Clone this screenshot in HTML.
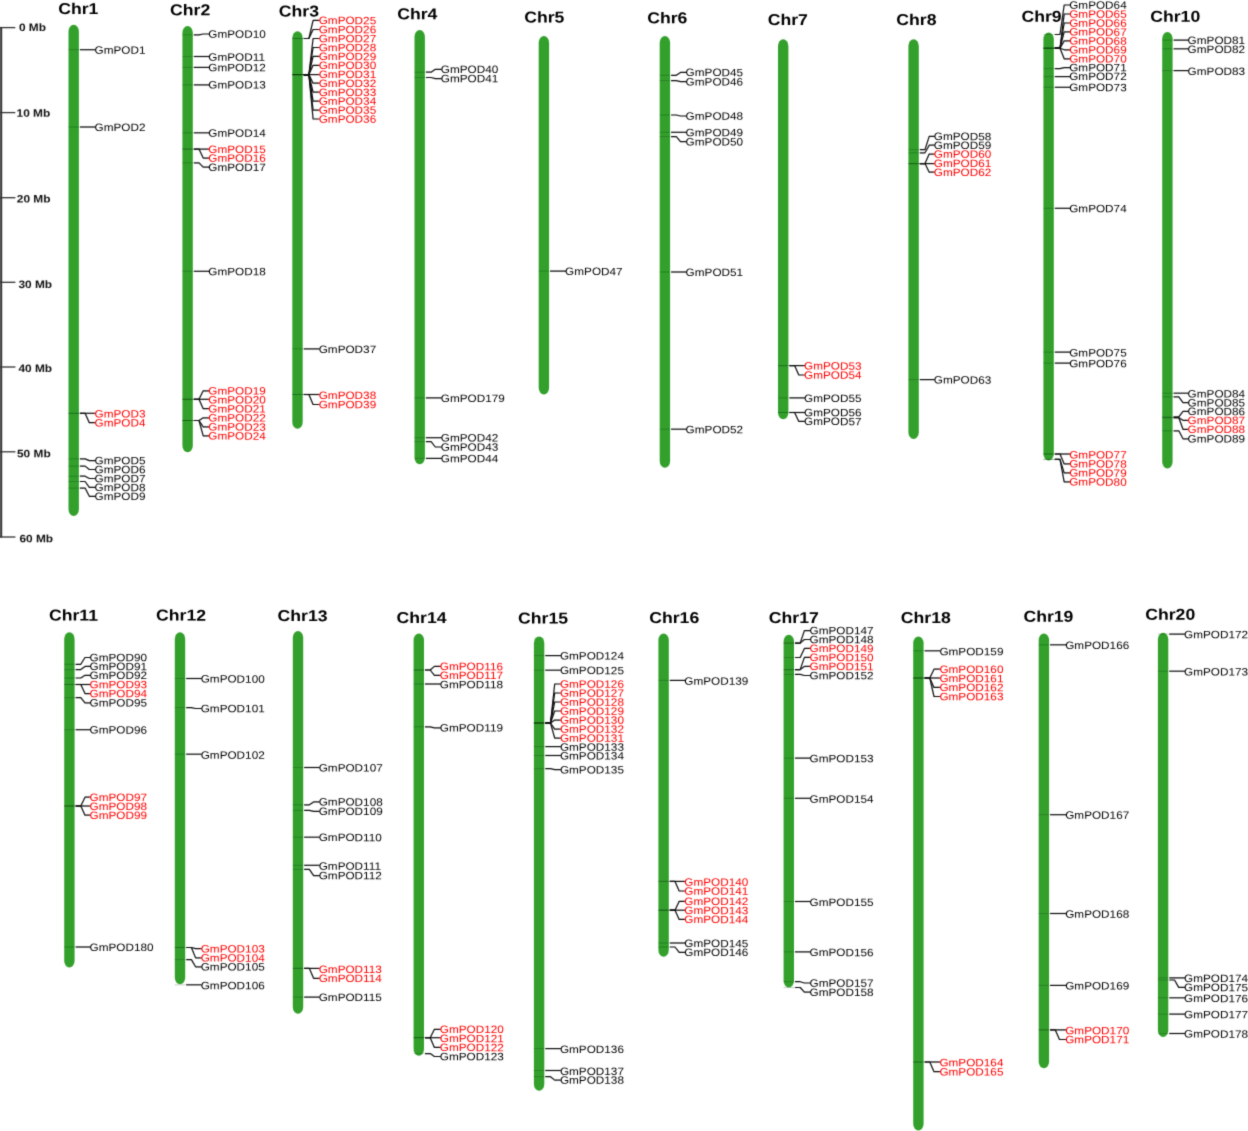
<!DOCTYPE html>
<html lang="en"><head><meta charset="utf-8"><title>GmPOD chromosome map</title>
<style>html,body{margin:0;padding:0;background:#fff;}body{width:1248px;height:1131px;overflow:hidden}svg{display:block}</style>
</head><body>
<svg width="1248" height="1131" viewBox="0 0 1248 1131">
<defs><filter id="soft" x="0" y="0" width="1248" height="1131" filterUnits="userSpaceOnUse"><feConvolveMatrix order="3" kernelMatrix="0.0192 0.1001 0.0192 0.1001 0.5228 0.1001 0.0192 0.1001 0.0192" divisor="1" edgeMode="duplicate" preserveAlpha="false"/></filter></defs>
<rect width="100%" height="100%" fill="#fff"/>
<g filter="url(#soft)">
<g stroke="#333" stroke-width="1.3" fill="none">
<path d="M1.2 27.0V537.6" stroke-width="2"/>
<path d="M0 27.6H15.3"/>
<path d="M0 112.6H15.3"/>
<path d="M0 197.7H15.4"/>
<path d="M0 282.3H15.4"/>
<path d="M0 367.0H15.4"/>
<path d="M0 451.8H15.4"/>
<path d="M0 537.0H15.4"/>
</g>
<g font-family="'Liberation Sans', Arial, sans-serif" font-weight="bold" font-size="10.8" fill="#111" text-rendering="geometricPrecision">
<text transform="matrix(1.10 0.0008 0 1 18.9 30.9)">0 Mb</text>
<text transform="matrix(1.10 0.0008 0 1 16.6 116.8)">10 Mb</text>
<text transform="matrix(1.10 0.0008 0 1 16.8 202.6)">20 Mb</text>
<text transform="matrix(1.10 0.0008 0 1 18.4 288.0)">30 Mb</text>
<text transform="matrix(1.10 0.0008 0 1 18.4 372.1)">40 Mb</text>
<text transform="matrix(1.10 0.0008 0 1 17.0 457.3)">50 Mb</text>
<text transform="matrix(1.10 0.0008 0 1 19.4 542.3)">60 Mb</text>
</g>
<g fill="#32a02c">
<rect x="68.5" y="24.8" width="10.4" height="491.2" rx="5.2" ry="6.7"/>
<rect x="182.4" y="26.0" width="10.4" height="426.3" rx="5.2" ry="6.7"/>
<rect x="292.3" y="31.3" width="10.4" height="397.4" rx="5.2" ry="6.7"/>
<rect x="414.5" y="30.0" width="10.4" height="434.2" rx="5.2" ry="6.7"/>
<rect x="538.7" y="36.0" width="10.4" height="358.5" rx="5.2" ry="6.7"/>
<rect x="659.7" y="36.1" width="10.4" height="431.6" rx="5.2" ry="6.7"/>
<rect x="778.0" y="39.2" width="10.4" height="380.0" rx="5.2" ry="6.7"/>
<rect x="908.4" y="39.2" width="10.4" height="399.8" rx="5.2" ry="6.7"/>
<rect x="1043.4" y="32.5" width="10.4" height="427.9" rx="5.2" ry="6.7"/>
<rect x="1162.2" y="32.1" width="10.4" height="436.4" rx="5.2" ry="6.7"/>
<rect x="64.2" y="632.3" width="10.4" height="335.2" rx="5.2" ry="6.7"/>
<rect x="174.8" y="632.3" width="10.4" height="352.0" rx="5.2" ry="6.7"/>
<rect x="292.8" y="631.1" width="10.4" height="382.6" rx="5.2" ry="6.7"/>
<rect x="413.6" y="633.5" width="10.4" height="422.3" rx="5.2" ry="6.7"/>
<rect x="533.9" y="636.4" width="10.4" height="454.3" rx="5.2" ry="6.7"/>
<rect x="658.4" y="633.5" width="10.4" height="323.2" rx="5.2" ry="6.7"/>
<rect x="783.6" y="634.7" width="10.4" height="352.7" rx="5.2" ry="6.7"/>
<rect x="913.2" y="636.6" width="10.4" height="493.8" rx="5.2" ry="6.7"/>
<rect x="1038.7" y="633.5" width="10.4" height="434.7" rx="5.2" ry="6.7"/>
<rect x="1157.9" y="632.7" width="10.4" height="404.2" rx="5.2" ry="6.7"/>
</g>
<g stroke="#002200" stroke-opacity="0.22" stroke-width="1" fill="none">
<path d="M68.5 49.7H78.9"/>
<path d="M68.5 127.0H78.9"/>
<path d="M68.5 413.3H78.9"/>
<path d="M68.5 413.3H78.9"/>
<path d="M68.5 458.9H78.9"/>
<path d="M68.5 466.1H78.9"/>
<path d="M68.5 476.2H78.9"/>
<path d="M68.5 481.5H78.9"/>
<path d="M68.5 488.1H78.9"/>
<path d="M182.4 34.9H192.8"/>
<path d="M182.4 56.5H192.8"/>
<path d="M182.4 67.4H192.8"/>
<path d="M182.4 84.9H192.8"/>
<path d="M182.4 132.8H192.8"/>
<path d="M182.4 149.1H192.8"/>
<path d="M182.4 149.1H192.8"/>
<path d="M182.4 162.9H192.8"/>
<path d="M182.4 271.3H192.8"/>
<path d="M182.4 399.3H192.8"/>
<path d="M182.4 399.3H192.8"/>
<path d="M182.4 399.3H192.8"/>
<path d="M182.4 420.5H192.8"/>
<path d="M182.4 420.5H192.8"/>
<path d="M182.4 420.5H192.8"/>
<path d="M292.3 38.5H302.7"/>
<path d="M292.3 38.5H302.7"/>
<path d="M292.3 74.6H302.7"/>
<path d="M292.3 74.6H302.7"/>
<path d="M292.3 74.6H302.7"/>
<path d="M292.3 74.6H302.7"/>
<path d="M292.3 74.6H302.7"/>
<path d="M292.3 74.6H302.7"/>
<path d="M292.3 74.6H302.7"/>
<path d="M292.3 74.6H302.7"/>
<path d="M292.3 74.6H302.7"/>
<path d="M292.3 74.6H302.7"/>
<path d="M292.3 348.9H302.7"/>
<path d="M292.3 394.5H302.7"/>
<path d="M292.3 394.5H302.7"/>
<path d="M414.5 72.2H424.9"/>
<path d="M414.5 77.5H424.9"/>
<path d="M414.5 397.9H424.9"/>
<path d="M414.5 437.7H424.9"/>
<path d="M414.5 441.7H424.9"/>
<path d="M414.5 458.4H424.9"/>
<path d="M538.7 271.1H549.1"/>
<path d="M659.7 75.3H670.1"/>
<path d="M659.7 80.6H670.1"/>
<path d="M659.7 115.0H670.1"/>
<path d="M659.7 132.3H670.1"/>
<path d="M659.7 136.6H670.1"/>
<path d="M659.7 272.0H670.1"/>
<path d="M659.7 429.2H670.1"/>
<path d="M778.0 365.6H788.4"/>
<path d="M778.0 365.6H788.4"/>
<path d="M778.0 397.9H788.4"/>
<path d="M778.0 412.5H788.4"/>
<path d="M778.0 412.5H788.4"/>
<path d="M908.4 149.6H918.8"/>
<path d="M908.4 152.8H918.8"/>
<path d="M908.4 163.6H918.8"/>
<path d="M908.4 163.6H918.8"/>
<path d="M908.4 163.6H918.8"/>
<path d="M908.4 379.6H918.8"/>
<path d="M1043.4 34.5H1053.8"/>
<path d="M1043.4 48.2H1053.8"/>
<path d="M1043.4 48.2H1053.8"/>
<path d="M1043.4 48.2H1053.8"/>
<path d="M1043.4 48.2H1053.8"/>
<path d="M1043.4 48.2H1053.8"/>
<path d="M1043.4 48.2H1053.8"/>
<path d="M1043.4 68.6H1053.8"/>
<path d="M1043.4 76.6H1053.8"/>
<path d="M1043.4 87.3H1053.8"/>
<path d="M1043.4 208.3H1053.8"/>
<path d="M1043.4 352.1H1053.8"/>
<path d="M1043.4 363.1H1053.8"/>
<path d="M1043.4 454.0H1053.8"/>
<path d="M1043.4 454.0H1053.8"/>
<path d="M1043.4 459.4H1053.8"/>
<path d="M1043.4 459.4H1053.8"/>
<path d="M1162.2 40.1H1172.6"/>
<path d="M1162.2 48.8H1172.6"/>
<path d="M1162.2 70.6H1172.6"/>
<path d="M1162.2 393.2H1172.6"/>
<path d="M1162.2 396.8H1172.6"/>
<path d="M1162.2 416.9H1172.6"/>
<path d="M1162.2 417.7H1172.6"/>
<path d="M1162.2 417.7H1172.6"/>
<path d="M1162.2 430.8H1172.6"/>
<path d="M64.2 664.3H74.6"/>
<path d="M64.2 669.6H74.6"/>
<path d="M64.2 678.0H74.6"/>
<path d="M64.2 684.5H74.6"/>
<path d="M64.2 684.5H74.6"/>
<path d="M64.2 697.7H74.6"/>
<path d="M64.2 729.7H74.6"/>
<path d="M64.2 806.0H74.6"/>
<path d="M64.2 806.0H74.6"/>
<path d="M64.2 806.0H74.6"/>
<path d="M64.2 947.0H74.6"/>
<path d="M174.8 678.5H185.2"/>
<path d="M174.8 707.6H185.2"/>
<path d="M174.8 754.2H185.2"/>
<path d="M174.8 947.5H185.2"/>
<path d="M174.8 947.5H185.2"/>
<path d="M174.8 959.6H185.2"/>
<path d="M174.8 984.8H185.2"/>
<path d="M292.8 767.5H303.2"/>
<path d="M292.8 804.8H303.2"/>
<path d="M292.8 810.3H303.2"/>
<path d="M292.8 837.2H303.2"/>
<path d="M292.8 865.3H303.2"/>
<path d="M292.8 869.3H303.2"/>
<path d="M292.8 968.4H303.2"/>
<path d="M292.8 968.4H303.2"/>
<path d="M292.8 997.1H303.2"/>
<path d="M413.6 670.0H424.0"/>
<path d="M413.6 670.0H424.0"/>
<path d="M413.6 684.0H424.0"/>
<path d="M413.6 726.8H424.0"/>
<path d="M413.6 1037.7H424.0"/>
<path d="M413.6 1037.7H424.0"/>
<path d="M413.6 1037.7H424.0"/>
<path d="M413.6 1053.6H424.0"/>
<path d="M533.9 655.6H544.3"/>
<path d="M533.9 670.2H544.3"/>
<path d="M533.9 723.0H544.3"/>
<path d="M533.9 723.0H544.3"/>
<path d="M533.9 723.0H544.3"/>
<path d="M533.9 723.0H544.3"/>
<path d="M533.9 723.0H544.3"/>
<path d="M533.9 723.0H544.3"/>
<path d="M533.9 723.0H544.3"/>
<path d="M533.9 746.6H544.3"/>
<path d="M533.9 755.5H544.3"/>
<path d="M533.9 768.7H544.3"/>
<path d="M533.9 1048.6H544.3"/>
<path d="M533.9 1070.5H544.3"/>
<path d="M533.9 1076.7H544.3"/>
<path d="M658.4 680.4H668.8"/>
<path d="M658.4 881.4H668.8"/>
<path d="M658.4 881.4H668.8"/>
<path d="M658.4 910.2H668.8"/>
<path d="M658.4 910.2H668.8"/>
<path d="M658.4 910.2H668.8"/>
<path d="M658.4 943.0H668.8"/>
<path d="M658.4 947.0H668.8"/>
<path d="M783.6 643.1H794.0"/>
<path d="M783.6 643.1H794.0"/>
<path d="M783.6 657.5H794.0"/>
<path d="M783.6 669.6H794.0"/>
<path d="M783.6 669.6H794.0"/>
<path d="M783.6 674.4H794.0"/>
<path d="M783.6 758.1H794.0"/>
<path d="M783.6 798.3H794.0"/>
<path d="M783.6 901.5H794.0"/>
<path d="M783.6 951.9H794.0"/>
<path d="M783.6 981.7H794.0"/>
<path d="M783.6 987.5H794.0"/>
<path d="M913.2 650.8H923.6"/>
<path d="M913.2 678.0H923.6"/>
<path d="M913.2 678.0H923.6"/>
<path d="M913.2 678.0H923.6"/>
<path d="M913.2 678.0H923.6"/>
<path d="M913.2 1062.0H923.6"/>
<path d="M913.2 1062.0H923.6"/>
<path d="M1038.7 644.8H1049.1"/>
<path d="M1038.7 814.7H1049.1"/>
<path d="M1038.7 913.5H1049.1"/>
<path d="M1038.7 985.4H1049.1"/>
<path d="M1038.7 1029.9H1049.1"/>
<path d="M1038.7 1029.9H1049.1"/>
<path d="M1157.9 634.1H1168.3"/>
<path d="M1157.9 671.2H1168.3"/>
<path d="M1157.9 977.9H1168.3"/>
<path d="M1157.9 980.0H1168.3"/>
<path d="M1157.9 997.8H1168.3"/>
<path d="M1157.9 1014.1H1168.3"/>
<path d="M1157.9 1033.5H1168.3"/>
</g>
<g stroke="#0a0a0a" stroke-width="1.2" fill="none" stroke-linejoin="round">
<path d="M79.8 49.7H95.4"/>
<path d="M79.8 127.0H95.4"/>
<path d="M79.8 413.3H95.4"/>
<path d="M79.8 413.3H85.1L89.3 422.7H95.4"/>
<path d="M79.8 458.9H85.1L89.3 460.6H95.4"/>
<path d="M79.8 466.1H85.1L89.3 469.5H95.4"/>
<path d="M79.8 476.2H85.1L89.3 478.5H95.4"/>
<path d="M79.8 481.5H85.1L89.3 487.4H95.4"/>
<path d="M79.8 488.1H85.1L89.3 496.3H95.4"/>
<path d="M193.7 34.9H199.0L203.2 34.0H209.2"/>
<path d="M193.7 56.5H209.2"/>
<path d="M193.7 67.4H209.2"/>
<path d="M193.7 84.9H209.2"/>
<path d="M193.7 132.8H209.2"/>
<path d="M193.7 149.1H209.2"/>
<path d="M193.7 149.1H199.0L203.2 158.1H209.2"/>
<path d="M193.7 162.9H199.0L203.2 167.2H209.2"/>
<path d="M193.7 271.3H209.2"/>
<path d="M193.7 399.3H199.0L203.2 390.8H209.2"/>
<path d="M193.7 399.3H209.2"/>
<path d="M193.7 399.3H199.0L203.2 408.7H209.2"/>
<path d="M193.7 420.5H199.0L203.2 417.8H209.2"/>
<path d="M193.7 420.5H199.0L203.2 426.9H209.2"/>
<path d="M193.7 420.5H199.0L203.2 435.9H209.2"/>
<path d="M303.6 38.5H308.9L313.1 20.4H319.6"/>
<path d="M303.6 38.5H308.9L313.1 29.5H319.6"/>
<path d="M303.6 74.6H308.9L313.1 38.5H319.6"/>
<path d="M303.6 74.6H308.9L313.1 47.5H319.6"/>
<path d="M303.6 74.6H308.9L313.1 56.4H319.6"/>
<path d="M303.6 74.6H308.9L313.1 65.3H319.6"/>
<path d="M303.6 74.6H319.6"/>
<path d="M303.6 74.6H308.9L313.1 83.2H319.6"/>
<path d="M303.6 74.6H308.9L313.1 92.2H319.6"/>
<path d="M303.6 74.6H308.9L313.1 101.1H319.6"/>
<path d="M303.6 74.6H308.9L313.1 110.1H319.6"/>
<path d="M303.6 74.6H308.9L313.1 119.0H319.6"/>
<path d="M303.6 348.9H319.6"/>
<path d="M303.6 394.5H319.6"/>
<path d="M303.6 394.5H308.9L313.1 404.5H319.6"/>
<path d="M425.8 72.2H431.1L435.3 69.3H441.7"/>
<path d="M425.8 77.5H431.1L435.3 78.6H441.7"/>
<path d="M425.8 397.9H441.7"/>
<path d="M425.8 437.7H441.7"/>
<path d="M425.8 441.7H431.1L435.3 447.0H441.7"/>
<path d="M425.8 458.4H441.7"/>
<path d="M550.0 271.1H566.0"/>
<path d="M671.0 75.3H676.3L680.5 72.4H686.5"/>
<path d="M671.0 80.6H676.3L680.5 81.7H686.5"/>
<path d="M671.0 115.0H676.3L680.5 116.0H686.5"/>
<path d="M671.0 132.3H686.5"/>
<path d="M671.0 136.6H676.3L680.5 141.7H686.5"/>
<path d="M671.0 272.0H686.5"/>
<path d="M671.0 429.2H686.5"/>
<path d="M789.3 365.6H804.9"/>
<path d="M789.3 365.6H794.6L798.8 375.0H804.9"/>
<path d="M789.3 397.9H804.9"/>
<path d="M789.3 412.5H804.9"/>
<path d="M789.3 412.5H794.6L798.8 421.4H804.9"/>
<path d="M919.7 149.6H925.0L929.2 136.4H934.7"/>
<path d="M919.7 152.8H925.0L929.2 145.2H934.7"/>
<path d="M919.7 163.6H925.0L929.2 154.1H934.7"/>
<path d="M919.7 163.6H934.7"/>
<path d="M919.7 163.6H925.0L929.2 172.2H934.7"/>
<path d="M919.7 379.6H934.7"/>
<path d="M1054.7 34.5H1060.0L1064.2 5.0H1070.1"/>
<path d="M1054.7 48.2H1060.0L1064.2 14.0H1070.1"/>
<path d="M1054.7 48.2H1060.0L1064.2 23.0H1070.1"/>
<path d="M1054.7 48.2H1060.0L1064.2 31.9H1070.1"/>
<path d="M1054.7 48.2H1060.0L1064.2 40.9H1070.1"/>
<path d="M1054.7 48.2H1060.0L1064.2 49.8H1070.1"/>
<path d="M1054.7 48.2H1060.0L1064.2 58.8H1070.1"/>
<path d="M1054.7 68.6H1060.0L1064.2 67.6H1070.1"/>
<path d="M1054.7 76.6H1070.1"/>
<path d="M1054.7 87.3H1070.1"/>
<path d="M1054.7 208.3H1070.1"/>
<path d="M1054.7 352.1H1070.1"/>
<path d="M1054.7 363.1H1070.1"/>
<path d="M1054.7 454.0H1070.1"/>
<path d="M1054.7 454.0H1060.0L1064.2 463.9H1070.1"/>
<path d="M1054.7 459.4H1060.0L1064.2 472.9H1070.1"/>
<path d="M1054.7 459.4H1060.0L1064.2 481.9H1070.1"/>
<path d="M1173.5 40.1H1188.5"/>
<path d="M1173.5 48.8H1188.5"/>
<path d="M1173.5 70.6H1188.5"/>
<path d="M1173.5 393.2H1188.5"/>
<path d="M1173.5 396.8H1178.8L1183.0 402.7H1188.5"/>
<path d="M1173.5 416.9H1178.8L1183.0 411.4H1188.5"/>
<path d="M1173.5 417.7H1178.8L1183.0 420.3H1188.5"/>
<path d="M1173.5 417.7H1178.8L1183.0 429.3H1188.5"/>
<path d="M1173.5 430.8H1178.8L1183.0 438.8H1188.5"/>
<path d="M75.5 664.3H80.8L85.0 657.5H90.4"/>
<path d="M75.5 669.6H80.8L85.0 666.4H90.4"/>
<path d="M75.5 678.0H80.8L85.0 675.3H90.4"/>
<path d="M75.5 684.5H90.4"/>
<path d="M75.5 684.5H80.8L85.0 693.6H90.4"/>
<path d="M75.5 697.7H80.8L85.0 702.8H90.4"/>
<path d="M75.5 729.7H90.4"/>
<path d="M75.5 806.0H80.8L85.0 797.2H90.4"/>
<path d="M75.5 806.0H90.4"/>
<path d="M75.5 806.0H80.8L85.0 815.2H90.4"/>
<path d="M75.5 947.0H90.4"/>
<path d="M186.1 678.5H201.6"/>
<path d="M186.1 707.6H191.4L195.6 708.5H201.6"/>
<path d="M186.1 754.2H201.6"/>
<path d="M186.1 947.5H191.4L195.6 948.7H201.6"/>
<path d="M186.1 947.5H191.4L195.6 957.9H201.6"/>
<path d="M186.1 959.6H191.4L195.6 966.8H201.6"/>
<path d="M186.1 984.8H201.6"/>
<path d="M304.1 767.5H319.6"/>
<path d="M304.1 804.8H309.4L313.6 801.9H319.6"/>
<path d="M304.1 810.3H309.4L313.6 811.3H319.6"/>
<path d="M304.1 837.2H319.6"/>
<path d="M304.1 865.3H319.6"/>
<path d="M304.1 869.3H309.4L313.6 875.6H319.6"/>
<path d="M304.1 968.4H319.6"/>
<path d="M304.1 968.4H309.4L313.6 978.3H319.6"/>
<path d="M304.1 997.1H319.6"/>
<path d="M424.9 670.0H430.2L434.4 666.4H440.7"/>
<path d="M424.9 670.0H430.2L434.4 675.3H440.7"/>
<path d="M424.9 684.0H440.7"/>
<path d="M424.9 726.8H430.2L434.4 727.8H440.7"/>
<path d="M424.9 1037.7H430.2L434.4 1029.3H440.7"/>
<path d="M424.9 1037.7H440.7"/>
<path d="M424.9 1037.7H430.2L434.4 1047.4H440.7"/>
<path d="M424.9 1053.6H430.2L434.4 1056.5H440.7"/>
<path d="M545.2 655.6H560.8"/>
<path d="M545.2 670.2H560.8"/>
<path d="M545.2 723.0H550.5L554.7 684.0H560.8"/>
<path d="M545.2 723.0H550.5L554.7 693.0H560.8"/>
<path d="M545.2 723.0H550.5L554.7 702.0H560.8"/>
<path d="M545.2 723.0H550.5L554.7 711.0H560.8"/>
<path d="M545.2 723.0H550.5L554.7 720.1H560.8"/>
<path d="M545.2 723.0H550.5L554.7 729.1H560.8"/>
<path d="M545.2 723.0H550.5L554.7 738.1H560.8"/>
<path d="M545.2 746.6H560.8"/>
<path d="M545.2 755.5H560.8"/>
<path d="M545.2 768.7H550.5L554.7 769.7H560.8"/>
<path d="M545.2 1048.6H560.8"/>
<path d="M545.2 1070.5H560.8"/>
<path d="M545.2 1076.7H550.5L554.7 1080.1H560.8"/>
<path d="M669.7 680.4H685.2"/>
<path d="M669.7 881.4H685.2"/>
<path d="M669.7 881.4H675.0L679.2 891.0H685.2"/>
<path d="M669.7 910.2H675.0L679.2 901.3H685.2"/>
<path d="M669.7 910.2H685.2"/>
<path d="M669.7 910.2H675.0L679.2 919.4H685.2"/>
<path d="M669.7 943.0H685.2"/>
<path d="M669.7 947.0H675.0L679.2 952.3H685.2"/>
<path d="M794.9 643.1H800.2L804.4 630.6H810.4"/>
<path d="M794.9 643.1H800.2L804.4 639.5H810.4"/>
<path d="M794.9 657.5H800.2L804.4 648.4H810.4"/>
<path d="M794.9 669.6H800.2L804.4 657.4H810.4"/>
<path d="M794.9 669.6H800.2L804.4 666.4H810.4"/>
<path d="M794.9 674.4H800.2L804.4 675.5H810.4"/>
<path d="M794.9 758.1H810.4"/>
<path d="M794.9 798.3H810.4"/>
<path d="M794.9 901.5H810.4"/>
<path d="M794.9 951.9H810.4"/>
<path d="M794.9 981.7H800.2L804.4 983.0H810.4"/>
<path d="M794.9 987.5H800.2L804.4 992.2H810.4"/>
<path d="M924.5 650.8H940.3"/>
<path d="M924.5 678.0H929.8L934.0 669.2H940.3"/>
<path d="M924.5 678.0H940.3"/>
<path d="M924.5 678.0H929.8L934.0 687.4H940.3"/>
<path d="M924.5 678.0H929.8L934.0 696.5H940.3"/>
<path d="M924.5 1062.0H940.3"/>
<path d="M924.5 1062.0H929.8L934.0 1071.7H940.3"/>
<path d="M1050.0 644.8H1066.1"/>
<path d="M1050.0 814.7H1066.1"/>
<path d="M1050.0 913.5H1066.1"/>
<path d="M1050.0 985.4H1066.1"/>
<path d="M1050.0 1029.9H1066.1"/>
<path d="M1050.0 1029.9H1055.3L1059.5 1039.5H1066.1"/>
<path d="M1169.2 634.1H1184.9"/>
<path d="M1169.2 671.2H1184.9"/>
<path d="M1169.2 977.9H1184.9"/>
<path d="M1169.2 980.0H1174.5L1178.7 987.4H1184.9"/>
<path d="M1169.2 997.8H1184.9"/>
<path d="M1169.2 1014.1H1184.9"/>
<path d="M1169.2 1033.5H1184.9"/>
</g>
<g font-family="'Liberation Sans', Arial, sans-serif" font-weight="bold" font-size="15.7" fill="#000" text-rendering="geometricPrecision">
<text transform="matrix(1.125 0.0008 0 1 58.2 14.1)">Chr1</text>
<text transform="matrix(1.125 0.0008 0 1 170.0 15.2)">Chr2</text>
<text transform="matrix(1.125 0.0008 0 1 278.8 16.4)">Chr3</text>
<text transform="matrix(1.125 0.0008 0 1 397.2 19.3)">Chr4</text>
<text transform="matrix(1.125 0.0008 0 1 524.2 22.5)">Chr5</text>
<text transform="matrix(1.125 0.0008 0 1 647.2 23.2)">Chr6</text>
<text transform="matrix(1.125 0.0008 0 1 767.7 24.9)">Chr7</text>
<text transform="matrix(1.125 0.0008 0 1 896.3 24.9)">Chr8</text>
<text transform="matrix(1.125 0.0008 0 1 1021.4 21.7)">Chr9</text>
<text transform="matrix(1.125 0.0008 0 1 1150.2 21.7)">Chr10</text>
<text transform="matrix(1.125 0.0008 0 1 48.9 620.6)">Chr11</text>
<text transform="matrix(1.125 0.0008 0 1 156.0 620.6)">Chr12</text>
<text transform="matrix(1.125 0.0008 0 1 277.5 621.1)">Chr13</text>
<text transform="matrix(1.125 0.0008 0 1 396.5 623.0)">Chr14</text>
<text transform="matrix(1.125 0.0008 0 1 518.0 623.5)">Chr15</text>
<text transform="matrix(1.125 0.0008 0 1 649.2 623.0)">Chr16</text>
<text transform="matrix(1.125 0.0008 0 1 768.8 623.0)">Chr17</text>
<text transform="matrix(1.125 0.0008 0 1 900.8 623.0)">Chr18</text>
<text transform="matrix(1.125 0.0008 0 1 1023.4 621.7)">Chr19</text>
<text transform="matrix(1.125 0.0008 0 1 1145.2 619.7)">Chr20</text>
</g>
<g font-family="'Liberation Sans', Arial, sans-serif" font-size="10.7" fill="#000" text-rendering="geometricPrecision">
<text transform="matrix(1.1 0.0008 0 1 94.5 53.7)">GmPOD1</text>
<text transform="matrix(1.1 0.0008 0 1 94.5 131.0)">GmPOD2</text>
<text transform="matrix(1.1 0.0008 0 1 94.5 417.5)" fill="#ff0000">GmPOD3</text>
<text transform="matrix(1.1 0.0008 0 1 94.5 426.4)" fill="#ff0000">GmPOD4</text>
<text transform="matrix(1.1 0.0008 0 1 94.5 464.3)">GmPOD5</text>
<text transform="matrix(1.1 0.0008 0 1 94.5 473.2)">GmPOD6</text>
<text transform="matrix(1.1 0.0008 0 1 94.5 482.2)">GmPOD7</text>
<text transform="matrix(1.1 0.0008 0 1 94.5 491.1)">GmPOD8</text>
<text transform="matrix(1.1 0.0008 0 1 94.5 500.0)">GmPOD9</text>
<text transform="matrix(1.1 0.0008 0 1 208.3 37.7)">GmPOD10</text>
<text transform="matrix(1.1 0.0008 0 1 208.3 60.7)">GmPOD11</text>
<text transform="matrix(1.1 0.0008 0 1 208.3 71.3)">GmPOD12</text>
<text transform="matrix(1.1 0.0008 0 1 208.3 88.4)">GmPOD13</text>
<text transform="matrix(1.1 0.0008 0 1 208.3 136.7)">GmPOD14</text>
<text transform="matrix(1.1 0.0008 0 1 208.3 152.9)" fill="#ff0000">GmPOD15</text>
<text transform="matrix(1.1 0.0008 0 1 208.3 161.8)" fill="#ff0000">GmPOD16</text>
<text transform="matrix(1.1 0.0008 0 1 208.3 170.9)">GmPOD17</text>
<text transform="matrix(1.1 0.0008 0 1 208.3 275.2)">GmPOD18</text>
<text transform="matrix(1.1 0.0008 0 1 208.3 394.5)" fill="#ff0000">GmPOD19</text>
<text transform="matrix(1.1 0.0008 0 1 208.3 403.5)" fill="#ff0000">GmPOD20</text>
<text transform="matrix(1.1 0.0008 0 1 208.3 412.4)" fill="#ff0000">GmPOD21</text>
<text transform="matrix(1.1 0.0008 0 1 208.3 421.5)" fill="#ff0000">GmPOD22</text>
<text transform="matrix(1.1 0.0008 0 1 208.3 430.6)" fill="#ff0000">GmPOD23</text>
<text transform="matrix(1.1 0.0008 0 1 208.3 439.6)" fill="#ff0000">GmPOD24</text>
<text transform="matrix(1.1 0.0008 0 1 318.7 24.1)" fill="#ff0000">GmPOD25</text>
<text transform="matrix(1.1 0.0008 0 1 318.7 33.2)" fill="#ff0000">GmPOD26</text>
<text transform="matrix(1.1 0.0008 0 1 318.7 42.2)" fill="#ff0000">GmPOD27</text>
<text transform="matrix(1.1 0.0008 0 1 318.7 51.2)" fill="#ff0000">GmPOD28</text>
<text transform="matrix(1.1 0.0008 0 1 318.7 60.1)" fill="#ff0000">GmPOD29</text>
<text transform="matrix(1.1 0.0008 0 1 318.7 69.0)" fill="#ff0000">GmPOD30</text>
<text transform="matrix(1.1 0.0008 0 1 318.7 78.0)" fill="#ff0000">GmPOD31</text>
<text transform="matrix(1.1 0.0008 0 1 318.7 87.0)" fill="#ff0000">GmPOD32</text>
<text transform="matrix(1.1 0.0008 0 1 318.7 95.9)" fill="#ff0000">GmPOD33</text>
<text transform="matrix(1.1 0.0008 0 1 318.7 104.8)" fill="#ff0000">GmPOD34</text>
<text transform="matrix(1.1 0.0008 0 1 318.7 113.8)" fill="#ff0000">GmPOD35</text>
<text transform="matrix(1.1 0.0008 0 1 318.7 122.8)" fill="#ff0000">GmPOD36</text>
<text transform="matrix(1.1 0.0008 0 1 318.7 352.9)">GmPOD37</text>
<text transform="matrix(1.1 0.0008 0 1 318.7 399.0)" fill="#ff0000">GmPOD38</text>
<text transform="matrix(1.1 0.0008 0 1 318.7 408.2)" fill="#ff0000">GmPOD39</text>
<text transform="matrix(1.1 0.0008 0 1 440.8 73.0)">GmPOD40</text>
<text transform="matrix(1.1 0.0008 0 1 440.8 82.3)">GmPOD41</text>
<text transform="matrix(1.1 0.0008 0 1 440.8 401.9)">GmPOD179</text>
<text transform="matrix(1.1 0.0008 0 1 440.8 441.5)">GmPOD42</text>
<text transform="matrix(1.1 0.0008 0 1 440.8 450.7)">GmPOD43</text>
<text transform="matrix(1.1 0.0008 0 1 440.8 462.3)">GmPOD44</text>
<text transform="matrix(1.1 0.0008 0 1 565.1 275.1)">GmPOD47</text>
<text transform="matrix(1.1 0.0008 0 1 685.6 76.1)">GmPOD45</text>
<text transform="matrix(1.1 0.0008 0 1 685.6 85.4)">GmPOD46</text>
<text transform="matrix(1.1 0.0008 0 1 685.6 119.7)">GmPOD48</text>
<text transform="matrix(1.1 0.0008 0 1 685.6 136.2)">GmPOD49</text>
<text transform="matrix(1.1 0.0008 0 1 685.6 145.4)">GmPOD50</text>
<text transform="matrix(1.1 0.0008 0 1 685.6 276.0)">GmPOD51</text>
<text transform="matrix(1.1 0.0008 0 1 685.6 433.3)">GmPOD52</text>
<text transform="matrix(1.1 0.0008 0 1 804.0 369.6)" fill="#ff0000">GmPOD53</text>
<text transform="matrix(1.1 0.0008 0 1 804.0 378.7)" fill="#ff0000">GmPOD54</text>
<text transform="matrix(1.1 0.0008 0 1 804.0 401.9)">GmPOD55</text>
<text transform="matrix(1.1 0.0008 0 1 804.0 416.3)">GmPOD56</text>
<text transform="matrix(1.1 0.0008 0 1 804.0 425.1)">GmPOD57</text>
<text transform="matrix(1.1 0.0008 0 1 933.8 140.1)">GmPOD58</text>
<text transform="matrix(1.1 0.0008 0 1 933.8 148.9)">GmPOD59</text>
<text transform="matrix(1.1 0.0008 0 1 933.8 157.8)" fill="#ff0000">GmPOD60</text>
<text transform="matrix(1.1 0.0008 0 1 933.8 166.9)" fill="#ff0000">GmPOD61</text>
<text transform="matrix(1.1 0.0008 0 1 933.8 175.9)" fill="#ff0000">GmPOD62</text>
<text transform="matrix(1.1 0.0008 0 1 933.8 383.6)">GmPOD63</text>
<text transform="matrix(1.1 0.0008 0 1 1069.2 8.7)">GmPOD64</text>
<text transform="matrix(1.1 0.0008 0 1 1069.2 17.7)" fill="#ff0000">GmPOD65</text>
<text transform="matrix(1.1 0.0008 0 1 1069.2 26.7)" fill="#ff0000">GmPOD66</text>
<text transform="matrix(1.1 0.0008 0 1 1069.2 35.6)" fill="#ff0000">GmPOD67</text>
<text transform="matrix(1.1 0.0008 0 1 1069.2 44.6)" fill="#ff0000">GmPOD68</text>
<text transform="matrix(1.1 0.0008 0 1 1069.2 53.5)" fill="#ff0000">GmPOD69</text>
<text transform="matrix(1.1 0.0008 0 1 1069.2 62.5)" fill="#ff0000">GmPOD70</text>
<text transform="matrix(1.1 0.0008 0 1 1069.2 71.3)">GmPOD71</text>
<text transform="matrix(1.1 0.0008 0 1 1069.2 80.0)">GmPOD72</text>
<text transform="matrix(1.1 0.0008 0 1 1069.2 91.1)">GmPOD73</text>
<text transform="matrix(1.1 0.0008 0 1 1069.2 212.2)">GmPOD74</text>
<text transform="matrix(1.1 0.0008 0 1 1069.2 356.4)">GmPOD75</text>
<text transform="matrix(1.1 0.0008 0 1 1069.2 367.2)">GmPOD76</text>
<text transform="matrix(1.1 0.0008 0 1 1069.2 458.5)" fill="#ff0000">GmPOD77</text>
<text transform="matrix(1.1 0.0008 0 1 1069.2 467.6)" fill="#ff0000">GmPOD78</text>
<text transform="matrix(1.1 0.0008 0 1 1069.2 476.6)" fill="#ff0000">GmPOD79</text>
<text transform="matrix(1.1 0.0008 0 1 1069.2 485.6)" fill="#ff0000">GmPOD80</text>
<text transform="matrix(1.1 0.0008 0 1 1187.6 44.0)">GmPOD81</text>
<text transform="matrix(1.1 0.0008 0 1 1187.6 53.0)">GmPOD82</text>
<text transform="matrix(1.1 0.0008 0 1 1187.6 74.9)">GmPOD83</text>
<text transform="matrix(1.1 0.0008 0 1 1187.6 397.5)">GmPOD84</text>
<text transform="matrix(1.1 0.0008 0 1 1187.6 406.4)">GmPOD85</text>
<text transform="matrix(1.1 0.0008 0 1 1187.6 415.1)">GmPOD86</text>
<text transform="matrix(1.1 0.0008 0 1 1187.6 424.0)" fill="#ff0000">GmPOD87</text>
<text transform="matrix(1.1 0.0008 0 1 1187.6 433.0)" fill="#ff0000">GmPOD88</text>
<text transform="matrix(1.1 0.0008 0 1 1187.6 442.5)">GmPOD89</text>
<text transform="matrix(1.1 0.0008 0 1 89.5 661.2)">GmPOD90</text>
<text transform="matrix(1.1 0.0008 0 1 89.5 670.1)">GmPOD91</text>
<text transform="matrix(1.1 0.0008 0 1 89.5 679.0)">GmPOD92</text>
<text transform="matrix(1.1 0.0008 0 1 89.5 688.3)" fill="#ff0000">GmPOD93</text>
<text transform="matrix(1.1 0.0008 0 1 89.5 697.3)" fill="#ff0000">GmPOD94</text>
<text transform="matrix(1.1 0.0008 0 1 89.5 706.5)">GmPOD95</text>
<text transform="matrix(1.1 0.0008 0 1 89.5 733.6)">GmPOD96</text>
<text transform="matrix(1.1 0.0008 0 1 89.5 800.9)" fill="#ff0000">GmPOD97</text>
<text transform="matrix(1.1 0.0008 0 1 89.5 809.9)" fill="#ff0000">GmPOD98</text>
<text transform="matrix(1.1 0.0008 0 1 89.5 818.9)" fill="#ff0000">GmPOD99</text>
<text transform="matrix(1.1 0.0008 0 1 89.5 950.9)">GmPOD180</text>
<text transform="matrix(1.1 0.0008 0 1 200.7 682.6)">GmPOD100</text>
<text transform="matrix(1.1 0.0008 0 1 200.7 712.2)">GmPOD101</text>
<text transform="matrix(1.1 0.0008 0 1 200.7 758.7)">GmPOD102</text>
<text transform="matrix(1.1 0.0008 0 1 200.7 952.4)" fill="#ff0000">GmPOD103</text>
<text transform="matrix(1.1 0.0008 0 1 200.7 961.6)" fill="#ff0000">GmPOD104</text>
<text transform="matrix(1.1 0.0008 0 1 200.7 970.5)">GmPOD105</text>
<text transform="matrix(1.1 0.0008 0 1 200.7 989.2)">GmPOD106</text>
<text transform="matrix(1.1 0.0008 0 1 318.7 771.4)">GmPOD107</text>
<text transform="matrix(1.1 0.0008 0 1 318.7 805.6)">GmPOD108</text>
<text transform="matrix(1.1 0.0008 0 1 318.7 815.0)">GmPOD109</text>
<text transform="matrix(1.1 0.0008 0 1 318.7 841.1)">GmPOD110</text>
<text transform="matrix(1.1 0.0008 0 1 318.7 869.7)">GmPOD111</text>
<text transform="matrix(1.1 0.0008 0 1 318.7 879.3)">GmPOD112</text>
<text transform="matrix(1.1 0.0008 0 1 318.7 972.9)" fill="#ff0000">GmPOD113</text>
<text transform="matrix(1.1 0.0008 0 1 318.7 982.0)" fill="#ff0000">GmPOD114</text>
<text transform="matrix(1.1 0.0008 0 1 318.7 1001.0)">GmPOD115</text>
<text transform="matrix(1.1 0.0008 0 1 439.8 670.1)" fill="#ff0000">GmPOD116</text>
<text transform="matrix(1.1 0.0008 0 1 439.8 679.0)" fill="#ff0000">GmPOD117</text>
<text transform="matrix(1.1 0.0008 0 1 439.8 688.2)">GmPOD118</text>
<text transform="matrix(1.1 0.0008 0 1 439.8 731.5)">GmPOD119</text>
<text transform="matrix(1.1 0.0008 0 1 439.8 1033.0)" fill="#ff0000">GmPOD120</text>
<text transform="matrix(1.1 0.0008 0 1 439.8 1042.1)" fill="#ff0000">GmPOD121</text>
<text transform="matrix(1.1 0.0008 0 1 439.8 1051.1)" fill="#ff0000">GmPOD122</text>
<text transform="matrix(1.1 0.0008 0 1 439.8 1060.2)">GmPOD123</text>
<text transform="matrix(1.1 0.0008 0 1 559.9 659.5)">GmPOD124</text>
<text transform="matrix(1.1 0.0008 0 1 559.9 674.1)">GmPOD125</text>
<text transform="matrix(1.1 0.0008 0 1 559.9 687.7)" fill="#ff0000">GmPOD126</text>
<text transform="matrix(1.1 0.0008 0 1 559.9 696.7)" fill="#ff0000">GmPOD127</text>
<text transform="matrix(1.1 0.0008 0 1 559.9 705.7)" fill="#ff0000">GmPOD128</text>
<text transform="matrix(1.1 0.0008 0 1 559.9 714.7)" fill="#ff0000">GmPOD129</text>
<text transform="matrix(1.1 0.0008 0 1 559.9 723.8)" fill="#ff0000">GmPOD130</text>
<text transform="matrix(1.1 0.0008 0 1 559.9 732.8)" fill="#ff0000">GmPOD132</text>
<text transform="matrix(1.1 0.0008 0 1 559.9 741.8)" fill="#ff0000">GmPOD131</text>
<text transform="matrix(1.1 0.0008 0 1 559.9 750.7)">GmPOD133</text>
<text transform="matrix(1.1 0.0008 0 1 559.9 759.5)">GmPOD134</text>
<text transform="matrix(1.1 0.0008 0 1 559.9 773.4)">GmPOD135</text>
<text transform="matrix(1.1 0.0008 0 1 559.9 1053.0)">GmPOD136</text>
<text transform="matrix(1.1 0.0008 0 1 559.9 1075.0)">GmPOD137</text>
<text transform="matrix(1.1 0.0008 0 1 559.9 1083.8)">GmPOD138</text>
<text transform="matrix(1.1 0.0008 0 1 684.3 684.8)">GmPOD139</text>
<text transform="matrix(1.1 0.0008 0 1 684.3 885.8)" fill="#ff0000">GmPOD140</text>
<text transform="matrix(1.1 0.0008 0 1 684.3 894.7)" fill="#ff0000">GmPOD141</text>
<text transform="matrix(1.1 0.0008 0 1 684.3 905.0)" fill="#ff0000">GmPOD142</text>
<text transform="matrix(1.1 0.0008 0 1 684.3 914.1)" fill="#ff0000">GmPOD143</text>
<text transform="matrix(1.1 0.0008 0 1 684.3 923.1)" fill="#ff0000">GmPOD144</text>
<text transform="matrix(1.1 0.0008 0 1 684.3 947.1)">GmPOD145</text>
<text transform="matrix(1.1 0.0008 0 1 684.3 956.0)">GmPOD146</text>
<text transform="matrix(1.1 0.0008 0 1 809.5 634.3)">GmPOD147</text>
<text transform="matrix(1.1 0.0008 0 1 809.5 643.2)">GmPOD148</text>
<text transform="matrix(1.1 0.0008 0 1 809.5 652.1)" fill="#ff0000">GmPOD149</text>
<text transform="matrix(1.1 0.0008 0 1 809.5 661.1)" fill="#ff0000">GmPOD150</text>
<text transform="matrix(1.1 0.0008 0 1 809.5 670.1)" fill="#ff0000">GmPOD151</text>
<text transform="matrix(1.1 0.0008 0 1 809.5 679.2)">GmPOD152</text>
<text transform="matrix(1.1 0.0008 0 1 809.5 762.3)">GmPOD153</text>
<text transform="matrix(1.1 0.0008 0 1 809.5 802.7)">GmPOD154</text>
<text transform="matrix(1.1 0.0008 0 1 809.5 905.9)">GmPOD155</text>
<text transform="matrix(1.1 0.0008 0 1 809.5 956.1)">GmPOD156</text>
<text transform="matrix(1.1 0.0008 0 1 809.5 986.7)">GmPOD157</text>
<text transform="matrix(1.1 0.0008 0 1 809.5 995.9)">GmPOD158</text>
<text transform="matrix(1.1 0.0008 0 1 939.4 655.2)">GmPOD159</text>
<text transform="matrix(1.1 0.0008 0 1 939.4 672.9)" fill="#ff0000">GmPOD160</text>
<text transform="matrix(1.1 0.0008 0 1 939.4 682.1)" fill="#ff0000">GmPOD161</text>
<text transform="matrix(1.1 0.0008 0 1 939.4 691.1)" fill="#ff0000">GmPOD162</text>
<text transform="matrix(1.1 0.0008 0 1 939.4 700.2)" fill="#ff0000">GmPOD163</text>
<text transform="matrix(1.1 0.0008 0 1 939.4 1066.2)" fill="#ff0000">GmPOD164</text>
<text transform="matrix(1.1 0.0008 0 1 939.4 1075.4)" fill="#ff0000">GmPOD165</text>
<text transform="matrix(1.1 0.0008 0 1 1065.2 648.9)">GmPOD166</text>
<text transform="matrix(1.1 0.0008 0 1 1065.2 818.7)">GmPOD167</text>
<text transform="matrix(1.1 0.0008 0 1 1065.2 917.8)">GmPOD168</text>
<text transform="matrix(1.1 0.0008 0 1 1065.2 989.5)">GmPOD169</text>
<text transform="matrix(1.1 0.0008 0 1 1065.2 1034.2)" fill="#ff0000">GmPOD170</text>
<text transform="matrix(1.1 0.0008 0 1 1065.2 1043.2)" fill="#ff0000">GmPOD171</text>
<text transform="matrix(1.1 0.0008 0 1 1184.0 638.2)">GmPOD172</text>
<text transform="matrix(1.1 0.0008 0 1 1184.0 675.5)">GmPOD173</text>
<text transform="matrix(1.1 0.0008 0 1 1184.0 982.0)">GmPOD174</text>
<text transform="matrix(1.1 0.0008 0 1 1184.0 991.1)">GmPOD175</text>
<text transform="matrix(1.1 0.0008 0 1 1184.0 1002.1)">GmPOD176</text>
<text transform="matrix(1.1 0.0008 0 1 1184.0 1018.2)">GmPOD177</text>
<text transform="matrix(1.1 0.0008 0 1 1184.0 1037.6)">GmPOD178</text>
</g>
</g>
</svg>
</body></html>
